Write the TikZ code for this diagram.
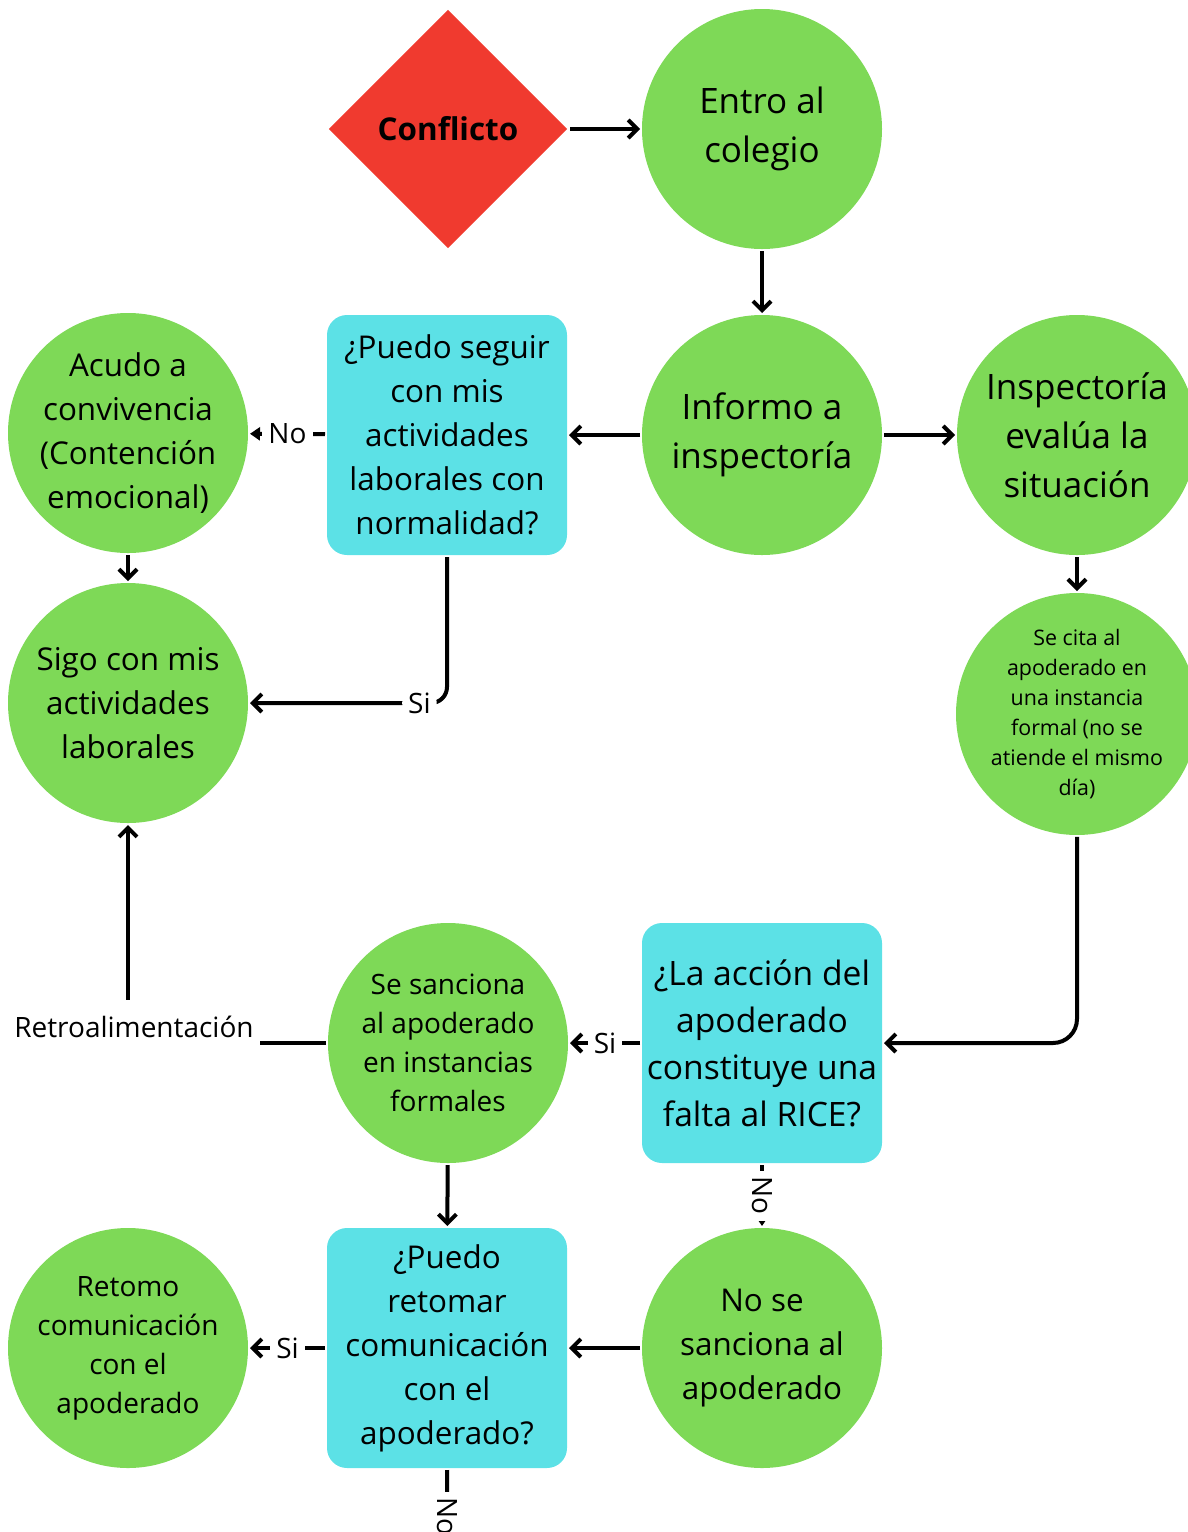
\documentclass[tikz,border=0pt]{standalone}
\usepackage{fontspec}
\setmainfont{Open Sans}
\usetikzlibrary{shapes.geometric, arrows.meta}
\definecolor{verde}{HTML}{7ED957}
\definecolor{celeste}{HTML}{5CE1E6}
\definecolor{rojo}{HTML}{F03A2F}
\newcommand\tamG{\fontsize{17.5}{24.5}\selectfont}
\newcommand\tamM{\fontsize{15.7}{22}\selectfont}
\newcommand\tamP{\fontsize{14}{19.5}\selectfont}
\newcommand\tamS{\fontsize{10.7}{15}\selectfont}

\begin{document}
\begin{tikzpicture}[x=0.5pt, y=-0.5pt, line width=2pt,
    circ/.style={circle, fill=verde, minimum size=120pt, inner sep=0pt, align=center},
    caja/.style={rectangle, rounded corners=10pt, fill=celeste, minimum size=120pt, inner sep=0pt, align=center},
    flecha/.style={-{Straight Barb[length=4.5pt, width=9pt]}},
    punta/.style={-{Triangle[length=5pt, width=6.5pt]}},
    etiq/.style={fill=white, font=\tamP, inner sep=3pt}]
    \useasboundingbox (0,0) rectangle (1188,1532);
    % nodos
    \node [diamond, fill=rojo, minimum size=120pt, inner sep=0pt, font=\tamM\bfseries] (conflicto) at (448,129) {Conflicto};
    \node [circ, font=\tamG] (entro) at (762,129) {Entro al\\colegio};
    \node [circ, font=\tamG] (informo) at (762,435) {Informo a\\inspectoría};
    \node [circ, font=\tamG] (evalua) at (1077,435) {Inspectoría\\evalúa la\\situación};
    \node [caja, font=\tamM] (seguir) at (447,435) {¿Puedo seguir\\con mis\\actividades\\laborales con\\normalidad?};
    \node [circ, font=\tamM] (acudo) at (128,433) {Acudo a\\convivencia\\(Contención\\emocional)};
    \node [circ, font=\tamM] (sigo) at (128,703) {Sigo con mis\\actividades\\laborales};
    \node [circ, font=\tamS] (cita) at (1077,714) {Se cita al\\apoderado en\\una instancia\\formal (no se\\atiende el mismo\\día)};
    \node [caja, font=\fontsize{16.8}{23.5}\selectfont] (accion) at (762,1043) {¿La acción del\\apoderado\\constituye una\\falta al RICE?};
    \node [circ, font=\tamP] (sanciona) at (448,1043) {Se sanciona\\al apoderado\\en instancias\\formales};
    \node [circ, font=\tamM] (nosanciona) at (762,1348) {No se\\sanciona al\\apoderado};
    \node [caja, font=\tamM] (retomar) at (447,1348) {¿Puedo\\retomar\\comunicación\\con el\\apoderado?};
    \node [circ, font=\tamP] (retomo) at (128,1348) {Retomo\\comunicación\\con el\\apoderado};
    \coordinate (fin) at (448,1560);
    % conectores
    \draw [flecha] (conflicto) -- (entro);
    \draw [flecha] (entro) -- (informo);
    \draw [flecha] (informo) -- (seguir);
    \draw [flecha] (informo) -- (evalua);
    \draw [flecha] (evalua) -- (cita);
    \draw [flecha] (acudo) -- (sigo);
    \draw [punta] (seguir) -- node [etiq] {No} (acudo);
    \draw [flecha, rounded corners=8pt] (seguir.south) |- node [etiq, pos=0.57] {Si} (sigo.east);
    \draw [flecha, rounded corners=12pt] (cita.south) |- (accion.east);
    \draw [flecha] (accion) -- node [etiq] {Si} (sanciona);
    \draw [punta] (accion) -- node [etiq, rotate=-90] {No} (nosanciona);
    \draw [flecha] (sanciona) -- (retomar);
    \draw [flecha] (nosanciona) -- (retomar);
    \draw [flecha] (retomar) -- node [etiq] {Si} (retomo);
    \draw (retomar.south) -- node [etiq, rotate=-90, pos=0.52] {No} (fin);
    \draw [flecha] (sanciona.west) -| node [etiq, pos=0.5, xshift=3pt, yshift=8pt, inner ysep=8pt] {Retroalimentación} (sigo.south);
\end{tikzpicture}
\end{document}
